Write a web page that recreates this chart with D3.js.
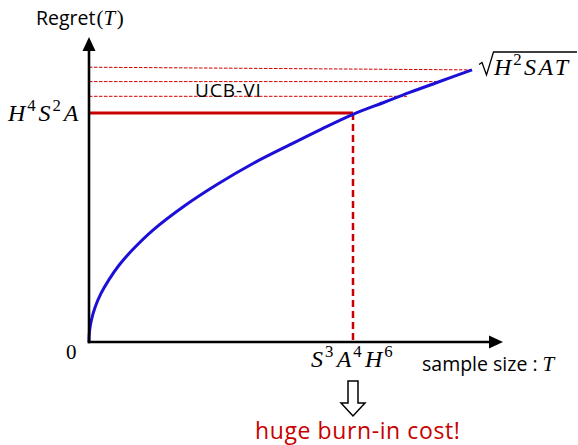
<!DOCTYPE html>
<html><head><meta charset="utf-8">
<script src="https://cdn.jsdelivr.net/npm/d3@7"></script>
<style>body{margin:0;background:#fff}</style>
</head><body>
<svg id="c" width="578" height="445"></svg>
<script>
// Data (arbitrary units: T in [0,100], Regret in [0,100])
const curveT = [0, 0.05, 0.2, 0.6, 1.5, 3, 5, 7.5, 11, 16, 24, 32, 41, 50, 58, 66, 74, 80, 87, 95.75];
const curveR = [0, 2.2, 4.3, 7.3, 11.5, 16.2, 20.8, 25.6, 30.9, 37.3, 45.5, 52.5, 59.5, 65.6, 70.9, 75.9, 80.0, 83.1, 86.5, 90.7];
const burnInT = 66;           // S^3 A^4 H^6
const burnInR = 76.3;         // H^4 S^2 A
const dashedR = [90.7, 86.8, 81.9];   // UCB-VI guide lines
const dashedEndT = [95.75, 87.25, 79.5];

const svg = d3.select("#c");
const x = d3.scaleLinear().domain([0, 100]).range([89, 489]);
const y = d3.scaleLinear().domain([0, 100]).range([342, 42]);
const red = "#c80000", blue = "#1c10d8";
const serif = "'Liberation Serif','DejaVu Serif',serif";
const sans = "'Open Sans',Lato,sans-serif";

// dashed guide lines
dashedR.forEach((r, i) => {
  svg.append("line").attr("x1", x(0)).attr("x2", x(dashedEndT[i]))
    .attr("y1", y(i === 0 ? 91.6 : r)).attr("y2", y(r))
    .attr("stroke", "#d40000").attr("stroke-width", 1).attr("stroke-dasharray", "3.5,1.5");
});
// burn-in lines
svg.append("line").attr("x1", x(0)).attr("x2", x(burnInT)).attr("y1", y(burnInR)).attr("y2", y(burnInR))
  .attr("stroke", red).attr("stroke-width", 3);
svg.append("line").attr("x1", x(burnInT)).attr("x2", x(burnInT)).attr("y1", y(burnInR)).attr("y2", y(0))
  .attr("stroke", red).attr("stroke-width", 2.5).attr("stroke-dasharray", "7,4");

// curve
const pts = curveT.map((t, i) => [t, curveR[i]]);
svg.append("path").datum(pts)
  .attr("d", d3.line().x(d => x(d[0])).y(d => y(d[1])).curve(d3.curveCatmullRom.alpha(0.5)))
  .attr("fill", "none").attr("stroke", blue).attr("stroke-width", 3);

// axes
svg.append("line").attr("x1", x(0)).attr("x2", x(0)).attr("y1", y(0) + 1.2).attr("y2", 48)
  .attr("stroke", "#000").attr("stroke-width", 2.6);
svg.append("line").attr("x1", x(0) - 1.2).attr("x2", 491).attr("y1", y(0)).attr("y2", y(0))
  .attr("stroke", "#000").attr("stroke-width", 2.6);
svg.append("path").attr("d", `M${x(0)},37 L${x(0) - 6.5},51 L${x(0) + 6.5},51 Z`).attr("fill", "#000");
svg.append("path").attr("d", `M503,${y(0)} L489,${y(0) - 6.5} L489,${y(0) + 6.5} Z`).attr("fill", "#000");

// texts
const t1 = svg.append("text").attr("x", 36).attr("y", 25).attr("font-size", 19.5).attr("font-family", sans);
t1.append("tspan").text("Regret");
t1.append("tspan").attr("font-family", serif).attr("font-size", 21).attr("dx", 1).text("(");
t1.append("tspan").attr("font-family", serif).attr("font-size", 21).attr("font-style", "italic").text("T");
t1.append("tspan").attr("font-family", serif).attr("font-size", 21).attr("dx", 1.5).text(")");

function mathText(xp, yp, parts, fs, gap) {
  const t = svg.append("text").attr("x", xp).attr("y", yp).attr("font-size", fs)
    .attr("font-family", serif).attr("font-style", "italic");
  let back = 0, first = true;
  parts.forEach(p => {
    t.append("tspan").attr("dy", back).attr("dx", first ? 0 : fs * gap).text(p[0]);
    back = 0; first = false;
    if (p[1]) {
      t.append("tspan").attr("font-style", "normal").attr("font-size", fs * 0.7)
        .attr("dx", fs * 0.08).attr("dy", -fs * 0.4).text(p[1]);
      back = fs * 0.4;
    }
  });
  return t;
}
mathText(8, 121, [["H", "4"], ["S", "2"], ["A", ""]], 24, 0.12);
svg.append("text").attr("x", 66).attr("y", 359).attr("font-size", 21).attr("font-family", serif).text("0");
mathText(311, 367, [["S", "3"], ["A", "4"], ["H", "6"]], 24, 0.14);

// sqrt label
svg.append("path").attr("d", "M479,64.5 L482,62.5 L486.5,75 L493.5,52 L577,52")
  .attr("fill", "none").attr("stroke", "#000").attr("stroke-width", 1.3).attr("stroke-linejoin", "miter");
mathText(494, 75, [["H", "2"], ["S", ""], ["A", ""], ["T", ""]], 24, 0.1);

const s2 = svg.append("text").attr("x", 422).attr("y", 371).attr("font-size", 19.5).attr("font-family", sans);
s2.append("tspan").text("sample size : ");
s2.append("tspan").attr("font-family", serif).attr("font-style", "italic").attr("font-size", 21).text("T");

svg.append("text").attr("x", 195).attr("y", 96.5).attr("font-size", 19).attr("letter-spacing", 1)
  .attr("font-family", sans).text("UCB-VI");

// down arrow outline
const ax = x(burnInT);
svg.append("path").attr("d", `M${ax - 5},381 L${ax + 5},381 L${ax + 5},403 L${ax + 12},403 L${ax},416 L${ax - 12},403 L${ax - 5},403 Z`)
  .attr("fill", "#fff").attr("stroke", "#000").attr("stroke-width", 1.5);

svg.append("text").attr("x", 255).attr("y", 439).attr("font-size", 23).attr("letter-spacing", 0.6)
  .attr("font-family", sans).attr("fill", red).text("huge burn-in cost!");
</script>
</body></html>
